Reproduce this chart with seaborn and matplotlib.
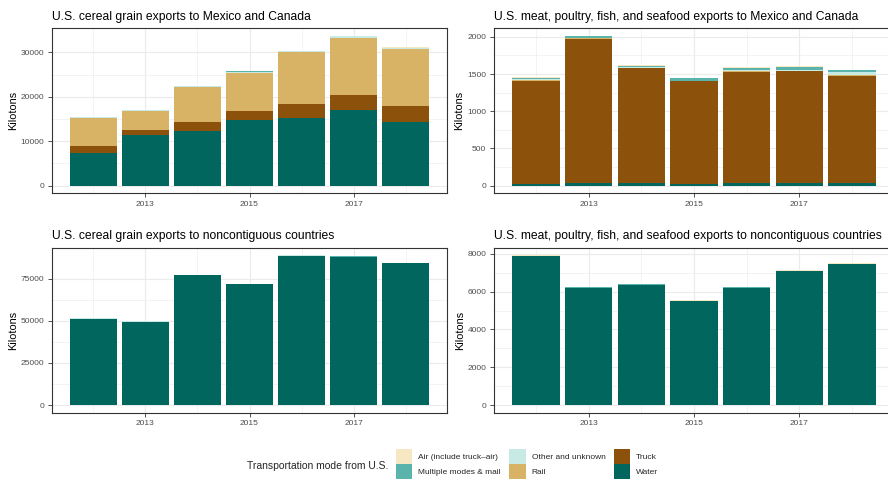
import numpy as np
import pandas as pd
import matplotlib
matplotlib.use("Agg")
import matplotlib.pyplot as plt
from matplotlib.patches import Patch
import seaborn as sns

# ---------------------------
# Data (kilotons)
# ---------------------------
years = [2012, 2013, 2014, 2015, 2016, 2017, 2018]
modes = ["Air (include truck–air)", "Multiple modes & mail", "Other and unknown",
         "Rail", "Truck", "Water"]
mode_colors = ["#f6e8c3", "#5ab4ac", "#c7eae5", "#d8b365", "#8c510a", "#01665e"]

# cereal grain -> Mexico and Canada
grain_mc_air = [5, 5, 5, 5, 5, 5, 5]
grain_mc_multiple = [50, 50, 150, 150, 200, 200, 200]
grain_mc_other = [150, 150, 150, 250, 200, 250, 200]
grain_mc_rail = [6500, 4200, 7900, 8500, 11650, 12950, 12800]
grain_mc_truck = [1400, 1200, 2000, 1950, 3050, 3300, 3570]
grain_mc_water = [7400, 11400, 12300, 14850, 15300, 17100, 14330]

# meat, poultry, fish, seafood -> Mexico and Canada
meat_mc_air = [2, 2, 2, 2, 5, 7, 8]
meat_mc_multiple = [25, 25, 25, 28, 27, 35, 15]
meat_mc_other = [12, 12, 10, 10, 20, 15, 40]
meat_mc_rail = [3, 3, 3, 3, 16, 8, 13]
meat_mc_truck = [1393, 1947, 1547, 1385, 1484, 1507, 1440]
meat_mc_water = [20, 30, 30, 15, 40, 30, 40]

# cereal grain -> noncontiguous countries
grain_nc_air = [10, 10, 10, 10, 10, 10, 10]
grain_nc_multiple = [150, 150, 150, 150, 150, 150, 150]
grain_nc_other = [150, 150, 150, 150, 150, 150, 150]
grain_nc_rail = [0, 0, 0, 0, 0, 0, 0]
grain_nc_truck = [0, 0, 0, 0, 0, 0, 0]
grain_nc_water = [51300, 49500, 76900, 71600, 88700, 87900, 84000]

# meat, poultry, fish, seafood -> noncontiguous countries
meat_nc_air = [50, 50, 50, 60, 50, 90, 60]
meat_nc_multiple = [5, 5, 5, 5, 5, 5, 5]
meat_nc_other = [5, 5, 5, 5, 5, 5, 5]
meat_nc_rail = [0, 0, 0, 0, 0, 0, 0]
meat_nc_truck = [0, 0, 0, 0, 0, 0, 0]
meat_nc_water = [7880, 6210, 6370, 5480, 6210, 7070, 7470]

panels = [
    ("U.S. cereal grain exports to Mexico and Canada",
     [grain_mc_air, grain_mc_multiple, grain_mc_other, grain_mc_rail, grain_mc_truck, grain_mc_water],
     [0, 10000, 20000, 30000]),
    ("U.S. meat, poultry, fish, and seafood exports to Mexico and Canada",
     [meat_mc_air, meat_mc_multiple, meat_mc_other, meat_mc_rail, meat_mc_truck, meat_mc_water],
     [0, 500, 1000, 1500, 2000]),
    ("U.S. cereal grain exports to noncontiguous countries",
     [grain_nc_air, grain_nc_multiple, grain_nc_other, grain_nc_rail, grain_nc_truck, grain_nc_water],
     [0, 25000, 50000, 75000]),
    ("U.S. meat, poultry, fish, and seafood exports to noncontiguous countries",
     [meat_nc_air, meat_nc_multiple, meat_nc_other, meat_nc_rail, meat_nc_truck, meat_nc_water],
     [0, 2000, 4000, 6000, 8000]),
]

# ---------------------------
# Style (ggplot theme_bw look)
# ---------------------------
sns.set_theme(style="white")
plt.rcParams["font.family"] = ["Liberation Sans", "DejaVu Sans"]

W, H = 888, 479
fig = plt.figure(figsize=(W / 100, H / 100), dpi=100)

# panel boxes in pixels: (left, top, right, bottom)
boxes = [(52, 28, 447, 193), (494, 28, 894, 193),
         (52, 247.5, 447, 412.5), (494, 247.5, 894, 412.5)]

for (title, series, yticks), (x0, y0, x1, y1) in zip(panels, boxes):
    ax = fig.add_axes([x0 / W, 1 - y1 / H, (x1 - x0) / W, (y1 - y0) / H])

    long = pd.DataFrame({
        "year": np.tile(years, len(modes)),
        "mode": np.repeat(modes, len(years)),
        "kt": np.concatenate(series),
    })
    sns.histplot(data=long, x="year", weights="kt", hue="mode",
                 hue_order=modes, palette=mode_colors, multiple="stack",
                 discrete=True, shrink=0.9, alpha=1, linewidth=0,
                 edgecolor="none", legend=False, ax=ax)

    totals = np.sum(series, axis=0)
    ymax = totals.max()
    ax.set_ylim(-0.05 * ymax, 1.05 * ymax)
    ax.set_xlim(2011.55 - 0.345, 2018.45 + 0.345)

    ax.set_xticks([2013, 2015, 2017])
    ax.set_xticks([2012, 2014, 2016, 2018], minor=True)
    ax.set_yticks(yticks)
    step = yticks[1] - yticks[0]
    ax.set_yticks([t + step / 2 for t in yticks[:-1]], minor=True)
    ax.set_axisbelow(True)
    ax.grid(which="major", color="#ebebeb", linewidth=0.8)
    ax.grid(which="minor", color="#ebebeb", linewidth=0.4)
    ax.tick_params(which="major", direction="out", length=3, width=0.6,
                   color="#333333", labelcolor="#4d4d4d", labelsize=6, pad=2.5,
                   bottom=True, left=True)
    ax.tick_params(which="minor", length=0)
    for s in ax.spines.values():
        s.set_color("#333333")
        s.set_linewidth(0.8)

    ax.set_xlabel("")
    ax.set_ylabel("Kilotons", fontsize=7.8, color="black", labelpad=2)
    ax.set_title(title, loc="left", fontsize=8.75, pad=6, color="black")

# ---------------------------
# Legend at the bottom
# ---------------------------
handles = [Patch(facecolor=c, edgecolor="none", label=m) for m, c in zip(modes, mode_colors)]
fig.text(247 / W, 1 - 466 / H, "Transportation mode from U.S.", fontsize=7.5,
         ha="left", va="center")
fig.legend(handles=handles, ncol=3, loc="center left",
           bbox_to_anchor=(396 / W, 1 - 464 / H), frameon=False, fontsize=6,
           handlelength=1.95, handleheight=2.4, labelspacing=0.0,
           handletextpad=0.7, columnspacing=1.05, borderaxespad=0, borderpad=0)

fig.savefig("out.png", dpi=100)
